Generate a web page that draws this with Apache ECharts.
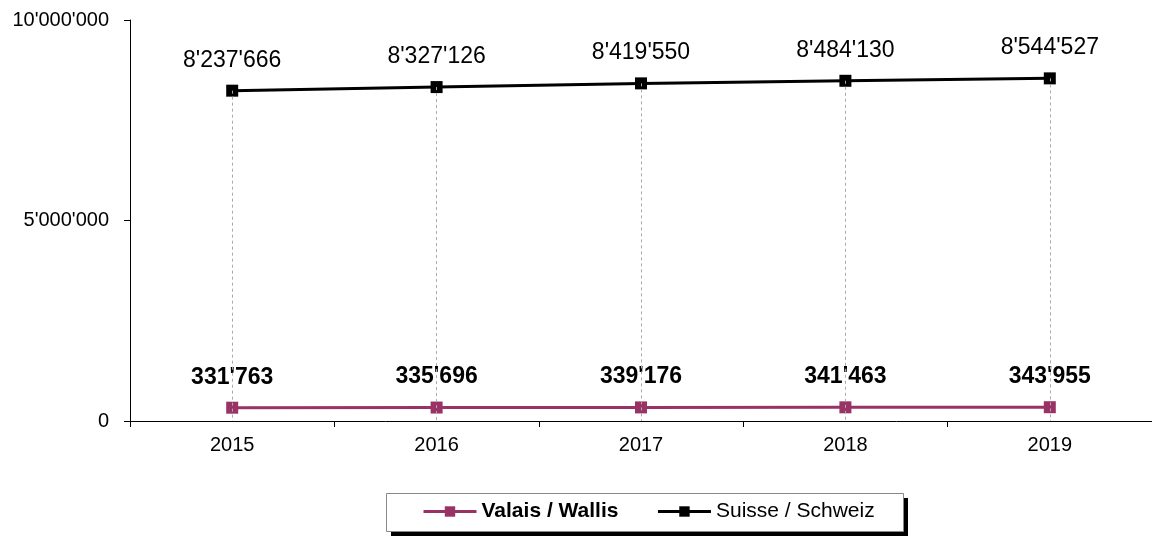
<!DOCTYPE html>
<html><head><meta charset="utf-8">
<script src="https://cdn.jsdelivr.net/npm/echarts@6/dist/echarts.min.js"></script>
<style>html,body{margin:0;padding:0;background:#fff}#c{width:1152px;height:536px}</style>
</head><body><div id="c"></div>
<script>
const years = ['2015','2016','2017','2018','2019'];
const valais = [331763, 335696, 339176, 341463, 343955];
const suisse = [8237666, 8327126, 8419550, 8484130, 8544527];
const yTicks = [0, 5000000, 10000000];

function fmt(v){ return String(v).replace(/\B(?=(\d{3})+(?!\d))/g, "'"); }
const FONT = 'Liberation Sans, Arial, sans-serif';

const chart = echarts.init(document.getElementById('c'));
chart.setOption({
  animation: false,
  backgroundColor: '#fff',
  grid: { left: 130, right: -3, top: 20, bottom: 115 },
  graphic: [
    { type: 'rect', left: 391, top: 498, z: 0, shape: { width: 517, height: 38 }, style: { fill: '#000' } },
    { type: 'rect', left: 386, top: 493, z: 1, shape: { width: 517, height: 38 }, style: { fill: '#fff', stroke: '#888', lineWidth: 1 } }
  ],
  xAxis: {
    type: 'category', data: years, boundaryGap: true,
    axisLine: { lineStyle: { color: '#000', width: 1 } },
    axisTick: { show: true, length: 6, lineStyle: { color: '#000' } },
    axisLabel: { color: '#000', fontSize: 20, fontFamily: FONT, margin: 14 },
    splitLine: { show: false }
  },
  yAxis: {
    type: 'value', min: 0, max: 10000000, interval: 5000000,
    axisLine: { show: true, lineStyle: { color: '#000', width: 1 } },
    axisTick: { show: true, length: 6, lineStyle: { color: '#000' } },
    axisLabel: { color: '#000', fontSize: 20, fontFamily: FONT, margin: 21,
      formatter: v => yTicks.includes(v) ? fmt(v) : '' },
    splitLine: { show: false }
  },
  legend: {
    left: 422, top: 501, padding: 0, z: 10,
    itemGap: 38, itemWidth: 53, itemHeight: 13,
    lineStyle: { width: 3 },
    textStyle: { color: '#000', fontSize: 21, fontFamily: FONT },
    data: [
      { name: 'Valais / Wallis', textStyle: { fontWeight: 'bold' } },
      { name: 'Suisse / Schweiz' }
    ]
  },
  series: [
    {
      name: 'Suisse / Schweiz', type: 'line', data: suisse,
      symbol: 'rect', symbolSize: 12,
      lineStyle: { color: '#000', width: 3 }, itemStyle: { color: '#000' },
      label: { show: true, position: 'top', distance: 13, color: '#000', fontSize: 23, fontFamily: FONT,
        formatter: p => fmt(p.value) },
      markLine: {
        silent: true, symbol: 'none', label: { show: false },
        lineStyle: { color: '#aaa', type: [3, 3], width: 1 },
        data: suisse.map((v, i) => [{ coord: [i, v] }, { coord: [i, 0] }])
      },
      z: 3
    },
    {
      name: 'Valais / Wallis', type: 'line', data: valais,
      symbol: 'rect', symbolSize: 12,
      lineStyle: { color: '#993366', width: 3 }, itemStyle: { color: '#993366' },
      label: { show: true, position: 'top', distance: 13, color: '#000', fontSize: 23, fontWeight: 'bold', fontFamily: FONT,
        formatter: p => fmt(p.value) },
      z: 4
    }
  ]
});
</script></body></html>
